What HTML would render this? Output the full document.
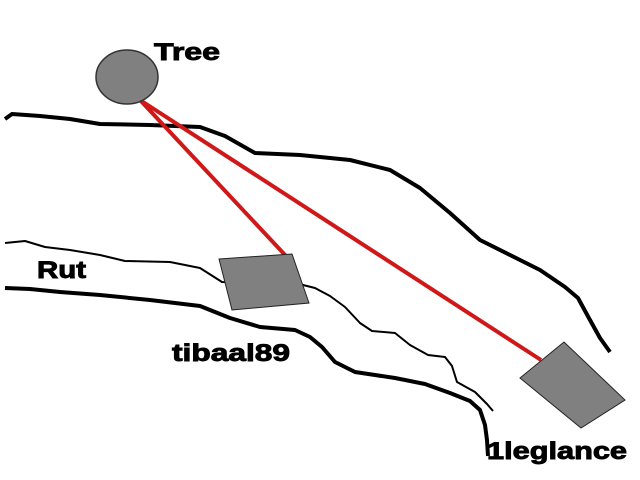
<!DOCTYPE html>
<html><head><meta charset="utf-8"><style>body{margin:0;background:#fff}svg{display:block}text{font-family:"Liberation Sans",sans-serif;font-weight:bold;font-size:24px;fill:#000;stroke:#000;stroke-width:0.9}</style></head>
<body>
<svg width="640" height="480" viewBox="0 0 640 480">
<rect width="640" height="480" fill="#fff"/>
<polyline fill="none" stroke="#000" stroke-width="4" stroke-linejoin="round" points="5,119 12,114 40,116 70,119 100,124 150,125 200,127 225,136 255,153 300,155 350,160 390,170 420,188 450,213 480,240 510,255 540,270 565,287 578,298 590,320 600,338 610,352"/>
<polyline fill="none" stroke="#000" stroke-width="2" stroke-linejoin="round" points="5,243 25,241 45,247 70,250 100,255 125,261 170,262 200,268 222,282 303,285 315,288 330,296 345,307 360,323 372,331 395,333 410,345 428,355 445,357 452,366 457,382 475,392 487,404 493,411"/>
<polyline fill="none" stroke="#000" stroke-width="4" stroke-linejoin="round" points="5,288 30,289 60,292 100,295 150,300 200,306 230,318 260,327 295,330 310,337 322,347 335,362 355,372 395,378 425,384 450,393 470,401 480,410 485,425 487,440 488,456"/>
<line x1="140" y1="100" x2="286" y2="256" stroke="#d01818" stroke-width="4"/>
<line x1="140" y1="100" x2="541" y2="360" stroke="#d01818" stroke-width="4"/>
<ellipse cx="127" cy="77" rx="31" ry="27" fill="#808080" stroke="#333" stroke-width="1.5"/>
<polygon points="219,259 292,254 309,303 232,310" fill="#808080" stroke="#222" stroke-width="1"/>
<polygon points="520,378 564,342 625,400 581,428" fill="#808080" stroke="#222" stroke-width="1"/>
<text x="154" y="60" textLength="66" lengthAdjust="spacingAndGlyphs">Tree</text>
<text x="37" y="278" textLength="49" lengthAdjust="spacingAndGlyphs">Rut</text>
<text x="172" y="361" textLength="118" lengthAdjust="spacingAndGlyphs">tibaal89</text>
<text x="487" y="459" textLength="140" lengthAdjust="spacingAndGlyphs">1leglance</text>
</svg>
</body></html>
